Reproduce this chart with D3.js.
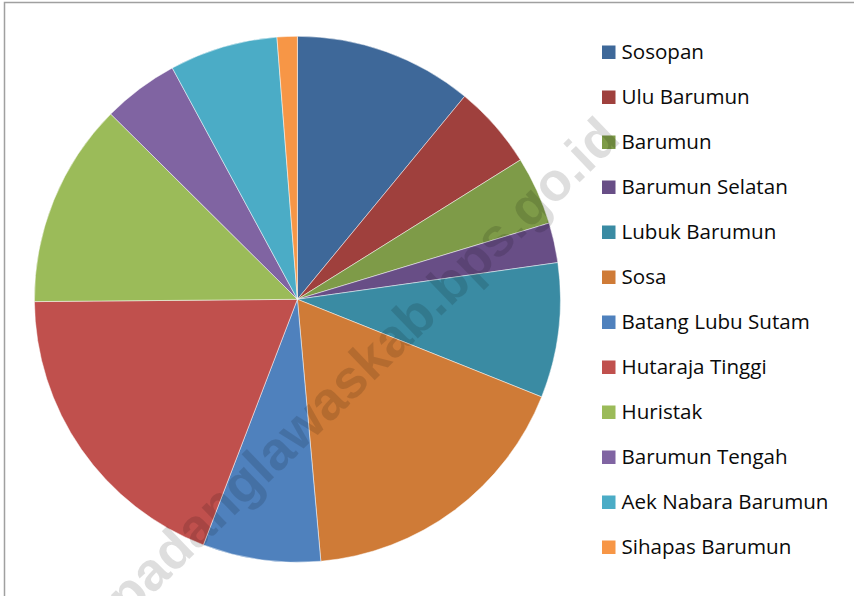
<!DOCTYPE html>
<html>
<head>
<meta charset="utf-8">
<script src="https://cdn.jsdelivr.net/npm/d3@7"></script>
<style>
html,body{margin:0;padding:0;background:#fff;}
svg{display:block;}
</style>
</head>
<body>
<svg id="chart" width="854" height="596"></svg>
<script>
const categories = ["Sosopan","Ulu Barumun","Barumun","Barumun Selatan","Lubuk Barumun","Sosa","Batang Lubu Sutam","Hutaraja Tinggi","Huristak","Barumun Tengah","Aek Nabara Barumun","Sihapas Barumun"];
const values = [10.97, 5.14, 4.21, 2.45, 8.28, 17.53, 7.24, 19.04, 12.58, 4.67, 6.65, 1.24];
const colors = ["#3E6899","#9F403D","#7E9B48","#684E86","#3A8BA3","#CF7B37","#4F81BD","#C0504D","#9BBB59","#8064A2","#4BACC6","#F79646"];
const watermark = "padanglawaskab.bps.go.id";

const svg = d3.select("#chart");

// frame
svg.append("rect").attr("x",4.5).attr("y",2.5).attr("width",900).attr("height",700)
  .attr("fill","none").attr("stroke","#a0a0a0").attr("stroke-width",1.5);

const cx = 297.4, cy = 299.3, r = 263;
const data = categories.map((c,i)=>({name:c,value:values[i],color:colors[i]}));
const pie = d3.pie().value(d=>d.value).sort(null);
const arc = d3.arc().innerRadius(0).outerRadius(r);

const g = svg.append("g").attr("transform",`translate(${cx},${cy})`);
g.selectAll("path").data(pie(data)).join("path")
  .attr("d",arc).attr("fill",d=>d.data.color)
  .attr("stroke","#ffffff").attr("stroke-opacity",0.6).attr("stroke-width",0.8);

// legend
const legend = svg.append("g");
const rowY = d3.scaleLinear().domain([0,1]).range([52,97]);
const items = legend.selectAll("g").data(data).join("g")
  .attr("transform",(d,i)=>`translate(602,${rowY(i)})`);
items.append("rect").attr("x",0).attr("y",-6.5).attr("width",13.5).attr("height",13.5)
  .attr("fill",d=>d.color);
const texts = items.append("text").attr("x",19.5).attr("y",0).attr("dy","0.36em")
  .attr("font-family","'Open Sans', 'Noto Sans', sans-serif").attr("font-size",19)
  .attr("fill","#0a0a0a").text(d=>d.name);

// fit font size so the longest label spans the reference width
let maxW = 0;
texts.each(function(){ maxW = Math.max(maxW, this.getComputedTextLength()); });
const fs = 19 * 207 / maxW;
texts.attr("font-size",fs);

// watermark
svg.append("text")
  .attr("transform","translate(362,366) rotate(-44)")
  .attr("text-anchor","middle").attr("dy","0.35em")
  .attr("font-family","'Liberation Sans', Arial, sans-serif").attr("font-weight","bold")
  .attr("font-size",54).attr("fill","#000").attr("fill-opacity",0.13)
  .text(watermark);
</script>
</body>
</html>
